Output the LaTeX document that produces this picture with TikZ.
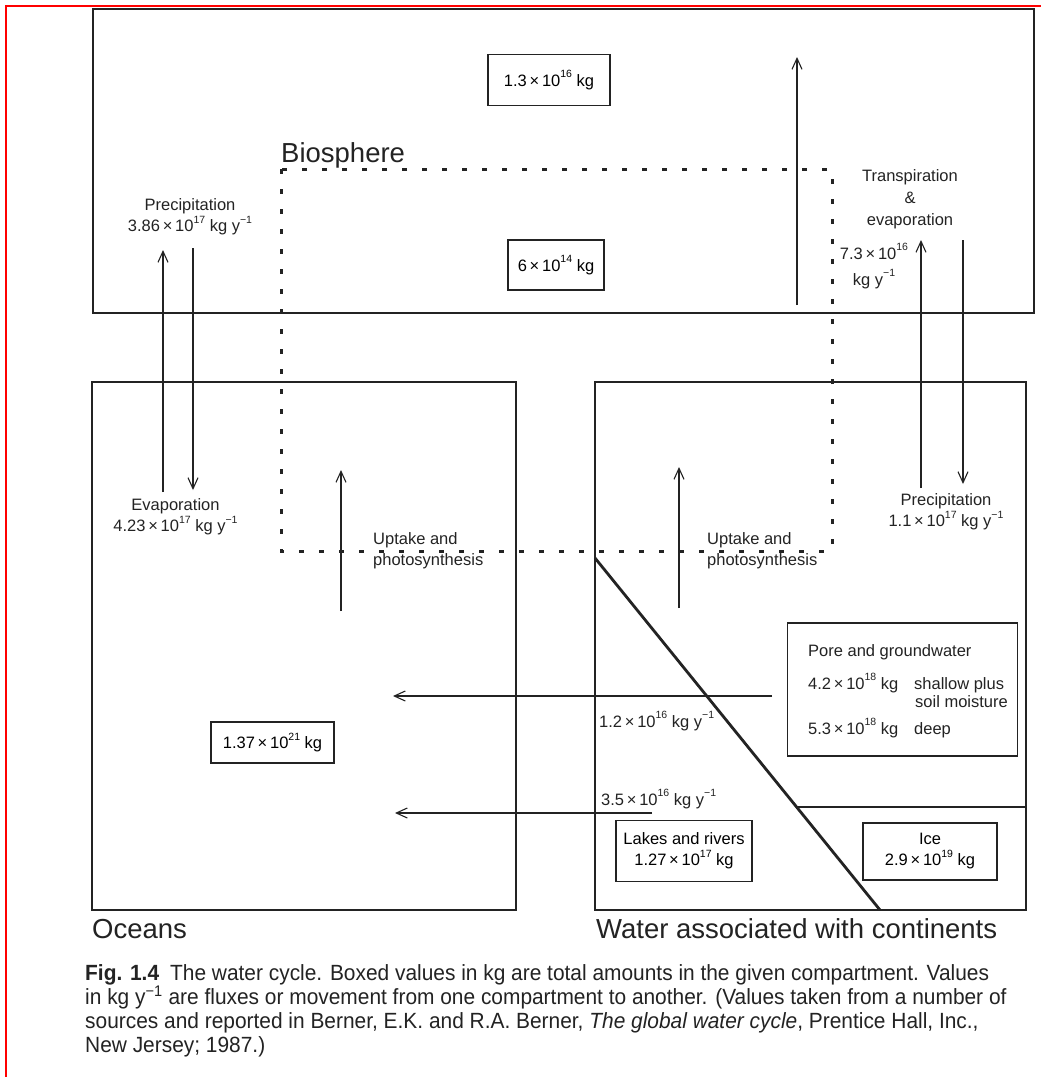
\documentclass[tikz,border=0pt]{standalone}
\usepackage{fontspec}
\setmainfont{Liberation Sans}
\newfontfamily\capfont[FakeStretch=0.95]{Liberation Sans}
\usetikzlibrary{arrows.meta,positioning}
\definecolor{ink}{RGB}{35,35,35}
\newcommand{\supsm}[1]{\raisebox{0.5em}{\fontsize{10.5}{10.5}\selectfont #1}}
\newcommand{\tenpow}[1]{\,×\,10\supsm{#1}}
\newcommand{\peryr}{kg y\supsm{−1}}
\newcommand{\labfont}{\fontsize{16.5}{21}\selectfont}
\newcommand{\namefont}{\fontsize{27.5}{32}\selectfont}
\begin{document}
\begin{tikzpicture}[x=1pt,y=-1pt,
    comp/.style={draw=ink, line width=2.8pt},
    valbox/.style={draw=ink, line width=1.5pt, inner sep=0pt, align=center, font=\labfont},
    txt/.style={font=\labfont, align=center, inner sep=0pt, text=ink},
    flux/.style={draw=ink, line width=1.1pt, -{Straight Barb[length=11pt,width=10pt]}},
    bio/.style={draw=ink, line width=3pt, dash pattern=on 5pt off 15pt},
    compname/.style={font=\namefont, anchor=base west, inner sep=0pt, text=ink},
    capline/.style={font=\capfont\fontsize{22}{24}\selectfont, anchor=base west, inner sep=0pt, text=ink}]
    \fill[white] (0,0) rectangle (1041,1077);
    \useasboundingbox (0,0) rectangle (1041,1077);
    \draw[red, line width=2pt] (6,1077) -- (6,6) -- (1041,6);

    % compartments
    \draw[comp] (93,9) rectangle (1034,313);
    \draw[comp] (92,382) rectangle (516,910);
    \draw[comp] (595,382) rectangle (1026,910);
    \draw[comp] (595,558) -- (880,910);
    \draw[comp] (798,807) -- (1026,807);
    \draw[bio] (281,169) rectangle (832,551);

    \node[compname] (bios) at (281,162) {Biosphere};
    \node[compname] (ocn) at (92,938) {Oceans};
    \node[compname] (cont) at (596,938) {Water associated with continents};

    % reservoirs
    \node[valbox, minimum width=122, minimum height=51] (atm) at (549,80) {1.3\tenpow{16} kg};
    \node[valbox, minimum width=96, minimum height=50] (biom) at (556,265) {6\tenpow{14} kg};
    \node[valbox, minimum width=123, minimum height=41] (sea) at (272.5,742.5) {1.37\tenpow{21} kg};
    \node[valbox, minimum width=136, minimum height=61] (lakes) at (684,851) {Lakes and rivers\\1.27\tenpow{17} kg};
    \node[valbox, minimum width=134, minimum height=57] (ice) at (930,851.5) {Ice\\2.9\tenpow{19} kg};
    \node[valbox, minimum width=230, minimum height=133] (pore) at (902.5,689.5) {};
    \node[txt, anchor=base west] (poret) at (808,656) {Pore and groundwater};
    \node[txt, anchor=base west] (shal) at (808,689) {4.2\tenpow{18} kg};
    \node[txt, anchor=base west] (shalt) at (914,689) {shallow plus};
    \node[txt, anchor=base east] (soil) at (1008,707) {soil moisture};
    \node[txt, anchor=base west] (deep) at (808,734) {5.3\tenpow{18} kg};
    \node[txt, anchor=base west] (deept) at (914,734) {deep};

    % fluxes
    \node[txt] (precl) at (190,216.5) {Precipitation\\3.86\tenpow{17} \peryr};
    \node[txt] (evap) at (175.5,516.5) {Evaporation\\4.23\tenpow{17} \peryr};
    \node[txt, font=\fontsize{16.5}{22}\selectfont] (transp) at (910,199) {Transpiration\\\&\\evaporation};
    \node[txt] (trval) at (874,266) {7.3\tenpow{16}\\[5pt]\peryr};
    \node[txt] (precr) at (946,511.5) {Precipitation\\1.1\tenpow{17} \peryr};
    \node[txt, anchor=west, align=left] (upl) at (373,551) {Uptake and\\photosynthesis};
    \node[txt, anchor=west, align=left] (upr) at (707,551) {Uptake and\\photosynthesis};
    \node[txt, anchor=base west] (gwflux) at (599,727) {1.2\tenpow{16} \peryr};
    \node[txt, anchor=base west] (rvflux) at (601,805) {3.5\tenpow{16} \peryr};

    \coordinate (evl) at (163,492);  \coordinate (evlt) at (163,250);
    \coordinate (prl) at (193,248);  \coordinate (prlt) at (193,490);
    \coordinate (bigup) at (797,305); \coordinate (bigupt) at (797,57);
    \coordinate (trr) at (921,488);  \coordinate (trrt) at (921,240);
    \coordinate (prr) at (963,240);  \coordinate (prrt) at (963,484);
    \coordinate (uol) at (341,611);  \coordinate (uolt) at (341,470);
    \coordinate (uor) at (679,608);  \coordinate (uort) at (679,467);
    \coordinate (gw) at (772,696);   \coordinate (gwt) at (393,696);
    \coordinate (rv) at (652,813);   \coordinate (rvt) at (395,813);
    \draw[flux] (evl) -- (evlt);
    \draw[flux] (prl) -- (prlt);
    \draw[flux] (bigup) -- (bigupt);
    \draw[flux] (trr) -- (trrt);
    \draw[flux] (prr) -- (prrt);
    \draw[flux] (uol) -- (uolt);
    \draw[flux] (uor) -- (uort);
    \draw[flux] (gw) -- (gwt);
    \draw[flux] (rv) -- (rvt);

    % caption
    \node[capline] (cap1) at (85,980) {\textbf{Fig. 1.4}\enspace The water cycle. Boxed values in kg are total amounts in the given compartment. Values};
    \node[capline] (cap2) at (85,1004) {in kg y\textsuperscript{−1} are fluxes or movement from one compartment to another. (Values taken from a number of};
    \node[capline] (cap3) at (85,1028) {sources and reported in Berner, E.K. and R.A. Berner, \textit{The global water cycle}, Prentice Hall, Inc.,};
    \node[capline] (cap4) at (85,1052) {New Jersey; 1987.)};
\end{tikzpicture}
\end{document}
